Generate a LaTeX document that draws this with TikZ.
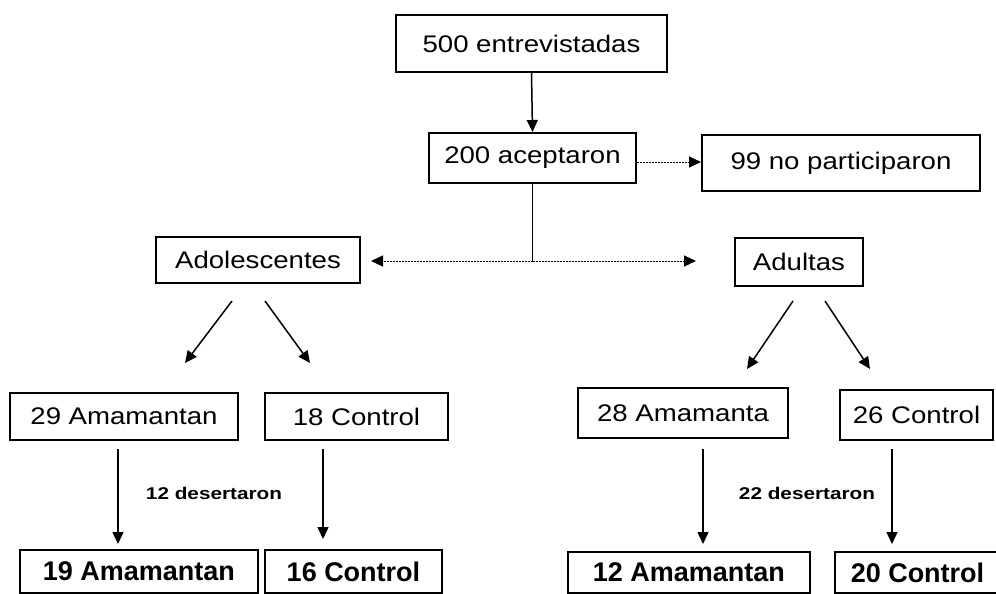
\documentclass[tikz,border=0pt]{standalone}
\usepackage{fontspec}
\setmainfont{Liberation Sans}
\newfontfamily\widefont[FakeStretch=1.15]{Liberation Sans}
\newfontfamily\lblfont[FakeStretch=1.22]{Liberation Sans}
\usetikzlibrary{arrows.meta,calc}
\begin{document}
\begin{tikzpicture}[x=1pt,y=-1pt,
  box/.style={draw, line width=2pt, inner sep=0pt, font=\widefont\fontsize{24}{28}\selectfont},
  bbox/.style={draw, line width=2pt, inner sep=0pt, font=\fontsize{27}{30}\selectfont\bfseries},
  arr/.style={line width=1.5pt, -{Triangle[length=12pt,width=11pt]}},
  darr/.style={line width=1pt, dash pattern=on 2pt off 1pt, -{Triangle[length=12pt,width=11pt]}},
  lbl/.style={font=\lblfont\bfseries\fontsize{17}{20}\selectfont}]
\useasboundingbox (0,0) rectangle (996,594);
\clip (0,0) rectangle (996,594);
% boxes
\node[box, minimum width=271pt, minimum height=57pt] (top) at (531.5,43.5) {500 entrevistadas\hspace{14pt}};
\node[box, minimum width=207pt, minimum height=50pt] (acc) at (532.5,158) {200 aceptaron};
\node[box, minimum width=278pt, minimum height=56pt] (nop) at (841,163) {99 no participaron};
\node[box, minimum width=204pt, minimum height=46pt] (ado) at (258,260) {Adolescentes};
\node[box, minimum width=128pt, minimum height=48pt] (adu) at (799,262) {Adultas};
\node[box, minimum width=228pt, minimum height=47pt] (a29) at (124,416.5) {29 Amamantan};
\node[box, minimum width=183pt, minimum height=47pt] (c18) at (356.5,416.5) {18 Control};
\node[box, minimum width=210pt, minimum height=50pt] (a28) at (683,413) {28 Amamanta};
\node[box, minimum width=153pt, minimum height=50pt] (c26) at (916.5,415) {26 Control};
\node[bbox, minimum width=238pt, minimum height=43pt] (a19) at (139,571.5) {19 Amamantan};
\node[bbox, minimum width=177pt, minimum height=43pt] (c16) at (353.5,571.5) {16 Control};
\node[bbox, minimum width=242pt, minimum height=41pt] (a12) at (689,572.5) {12 Amamantan};
\node[bbox, minimum width=165pt, minimum height=41pt] (c20) at (917.5,572.5) {20 Control};
% labels
\node[lbl] (d12) at (214,493) {12 desertaron};
\node[lbl] (d22) at (807,493) {22 desertaron};
% connectors
\draw[arr] (top.south) -- (acc.north);
\draw[darr] ([yshift=-4pt]acc.east) -- ([yshift=-4pt]acc.east -| nop.west);
\coordinate (j) at (532.5,261);
\draw[line width=1.3pt] (acc.south) -- (j);
\draw[darr, shorten >=10pt] (j) -- (j -| ado.east);
\draw[darr, shorten >=38pt] (j) -- (j -| adu.west);
\draw[arr] ($(ado.south)+(-26,17)$) -- ($(ado.south)+(-73,79)$);
\draw[arr] ($(ado.south)+(7,17)$) -- ($(ado.south)+(52,79)$);
\draw[arr] ($(adu.south)+(-6,14)$) -- ($(adu.south)+(-52,82)$);
\draw[arr] ($(adu.south)+(26,14)$) -- ($(adu.south)+(71,82)$);
\draw[arr, shorten <=8pt, shorten >=5pt] ([xshift=-6pt]a29.south) -- ([xshift=-6pt]a29.south |- a19.north);
\draw[arr, shorten <=8pt, shorten >=10pt] ([xshift=-33.5pt]c18.south) -- ([xshift=-33.5pt]c18.south |- c16.north);
\draw[arr, shorten <=10pt, shorten >=7pt] ([xshift=20pt]a28.south) -- ([xshift=20pt]a28.south |- a12.north);
\draw[arr, shorten <=8pt, shorten >=7pt] ([xshift=-24.5pt]c26.south) -- ([xshift=-24.5pt]c26.south |- c20.north);
\end{tikzpicture}
\end{document}
